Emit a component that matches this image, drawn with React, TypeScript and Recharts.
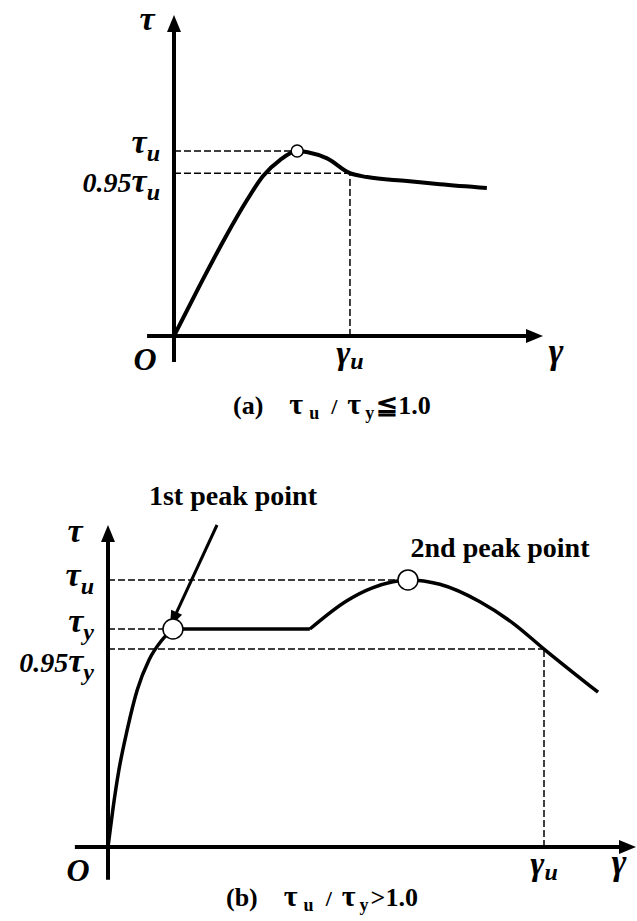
import { LineChart, Line, XAxis, YAxis, ReferenceLine, ReferenceDot } from 'recharts';

const SERIF = '"Liberation Serif", "Times New Roman", serif';

// (a) tau_u/tau_y <= 1.0   (gamma in gamma_u units, tau in tau_u units)
const aGamma = [0, 0.148, 0.29, 0.415, 0.506, 0.602, 0.7, 0.76, 0.87, 1.0, 1.097, 1.324, 1.511, 1.778];
const aTau = [0, 0.276, 0.53, 0.735, 0.865, 0.951, 1.0, 0.993, 0.96, 0.88, 0.859, 0.838, 0.82, 0.8];
const aTauU = 1.0;
const aTau95 = 0.88;
const aGammaU = 1.0;
const aPeakGamma = 0.7;

// (b) tau_u/tau_y > 1.0   (gamma in gamma_u units, tau in tau_y units)
const bRiseGamma = [0, 0.011, 0.025, 0.044, 0.067, 0.094, 0.122, 0.149];
const bRiseTau = [0, 0.17, 0.353, 0.537, 0.72, 0.858, 0.945, 1.0];
const bFlatGamma = [0.149, 0.463];
const bFlatTau = [1.0, 1.0];
const bHardGamma = [0.463, 0.548, 0.608, 0.688, 0.761, 0.853, 0.93, 1.0, 1.124];
const bHardTau = [1.0, 1.13, 1.19, 1.225, 1.205, 1.125, 1.025, 0.908, 0.71];
const bTauU = 1.225;
const bTauY = 1.0;
const bTau95 = 0.908;
const bGammaU = 1.0;
const b1stPeak = 0.149;
const b2ndPeak = 0.688;

// tick labels: [prefix, subscript]
const aTauTicks: Record<string, [string, string]> = {
  [String(aTau95)]: ['0.95', 'u'],
  [String(aTauU)]: ['', 'u'],
};
const bTauTicks: Record<string, [string, string]> = {
  [String(bTau95)]: ['0.95', 'y'],
  [String(bTauY)]: ['', 'y'],
  [String(bTauU)]: ['', 'u'],
};

const zip = (g: number[], t: number[]) => g.map((v, i) => ({ g: v, t: t[i] }));
const aData = zip(aGamma, aTau);
const bRise = zip(bRiseGamma, bRiseTau);
const bFlat = zip(bFlatGamma, bFlatTau);
const bHard = zip(bHardGamma, bHardTau);

const dash = { stroke: '#000', strokeWidth: 1.5, strokeDasharray: '7 3' };

function Arrow(p: any) {
  const { x1, y1, x2, y2, w = 4, head = 17, half = 7, label, lx = 0, ly = 0, size = 32, bold = true, italic = true } = p;
  const dx = x2 - x1;
  const dy = y2 - y1;
  const len = Math.hypot(dx, dy) || 1;
  const ux = dx / len;
  const uy = dy / len;
  const bx = x2 - ux * head;
  const by = y2 - uy * head;
  const pts = `${x2},${y2} ${bx - uy * half},${by + ux * half} ${bx + uy * half},${by - ux * half}`;
  return (
    <g>
      <line x1={x1} y1={y1} x2={bx + ux * 2} y2={by + uy * 2} stroke="#000" strokeWidth={w} />
      <polygon points={pts} fill="#000" />
      {label && (
        <text
          x={(lx as number) + (p.fromStart ? x1 : x2)}
          y={(ly as number) + (p.fromStart ? y1 : y2)}
          textAnchor="middle"
          fontFamily={SERIF}
          fontWeight={bold ? 'bold' : 'normal'}
          fontStyle={italic ? 'italic' : 'normal'}
          fontSize={size}
        >
          {label}
        </text>
      )}
    </g>
  );
}

function makeTauTick(labels: Record<string, [string, string]>, offsets: Record<string, number>) {
  return (p: any) => {
    const key = String(p.payload.value);
    const lab = labels[key];
    if (!lab) return <g />;
    return (
      <text x={p.x - 6} y={p.y + (offsets[key] || 0)} textAnchor="end" fontFamily={SERIF} fontWeight="bold" fontStyle="italic">
        {lab[0] && <tspan fontSize={28}>{lab[0]}</tspan>}
        <tspan fontSize={34}>τ</tspan>
        <tspan fontSize={24} dy={8}>{lab[1]}</tspan>
      </text>
    );
  };
}

function makeGammaTick(shiftO: number) {
  return (p: any) => {
    const v = p.payload.value;
    if (v === 0) {
      return (
        <text x={p.x + shiftO} y={p.y + 26} textAnchor="middle" fontFamily={SERIF} fontWeight="bold" fontStyle="italic" fontSize={32}>
          O
        </text>
      );
    }
    return (
      <text x={p.x} y={p.y + 20} textAnchor="middle" fontFamily={SERIF} fontWeight="bold" fontStyle="italic">
        <tspan fontSize={34}>γ</tspan>
        <tspan fontSize={24} dy={5}>u</tspan>
      </text>
    );
  };
}

function Caption({ tag, rel, top, left }: { tag: string; rel: string; top: number; left: number }) {
  const sub = { display: 'inline-block', fontSize: 18, position: 'relative' as const, top: 5 };
  return (
    <div
      style={{
        position: 'absolute',
        left,
        top,
        fontFamily: SERIF,
        fontWeight: 'bold',
        fontSize: 26,
        lineHeight: '30px',
        whiteSpace: 'pre',
      }}
    >
      <span>{tag}</span>
      <span style={{ display: 'inline-block', marginLeft: 26, fontSize: 30 }}>τ</span>
      <span style={{ ...sub, marginLeft: 6 }}>u</span>
      <span style={{ display: 'inline-block', marginLeft: 12, fontSize: 22 }}>/</span>
      <span style={{ display: 'inline-block', marginLeft: 10, fontSize: 30 }}>τ</span>
      <span style={{ ...sub, marginLeft: 4 }}>y</span>
      <span style={{ display: 'inline-block', marginLeft: 2 }}>{rel}</span>
    </div>
  );
}

export default function App() {
  const aXMax = 2.097;
  const aYMax = 1.735;
  const bXMax = 1.211;
  const bYMax = 1.477;

  return (
    <div style={{ position: 'absolute', left: 0, top: 0, width: 637, height: 921, background: '#fff' }}>
      <div style={{ position: 'absolute', left: 0, top: 0 }}>
        <LineChart width={637} height={430} data={aData} margin={{ top: 15, right: 94, bottom: 64, left: 114 }}>
          <XAxis
            type="number"
            dataKey="g"
            domain={[0, aXMax]}
            allowDataOverflow
            ticks={[0, aGammaU]}
            axisLine={false}
            tickLine={false}
            height={30}
            tick={makeGammaTick(-29)}
            interval={0}
          />
          <YAxis
            type="number"
            domain={[0, aYMax]}
            allowDataOverflow
            ticks={[aTau95, aTauU]}
            axisLine={false}
            tickLine={false}
            width={60}
            tick={makeTauTick(aTauTicks, { [String(aTauU)]: 2, [String(aTau95)]: 19 })}
            interval={0}
          />
          <ReferenceLine segment={[{ x: 0, y: aTauU }, { x: aPeakGamma, y: aTauU }]} ifOverflow="visible" {...dash} />
          <ReferenceLine segment={[{ x: 0, y: aTau95 }, { x: aGammaU, y: aTau95 }]} ifOverflow="visible" {...dash} />
          <ReferenceLine segment={[{ x: aGammaU, y: 0 }, { x: aGammaU, y: aTau95 }]} ifOverflow="visible" {...dash} />
          <ReferenceLine
            segment={[{ x: -0.153, y: 0 }, { x: aXMax, y: 0 }]}
            ifOverflow="visible"
            shape={(p: any) => <Arrow {...p} label="γ" lx={13} ly={27} size={36} />}
          />
          <ReferenceLine
            segment={[{ x: 0, y: -0.14 }, { x: 0, y: aYMax }]}
            ifOverflow="visible"
            shape={(p: any) => <Arrow {...p} label="τ" lx={-27} ly={15} size={34} />}
          />
          <Line type="monotone" dataKey="t" stroke="#000" strokeWidth={4} dot={false} isAnimationActive={false} />
          <ReferenceDot x={aPeakGamma} y={aTauU} r={6} fill="#fff" stroke="#000" strokeWidth={1.5} />
        </LineChart>
      </div>
      <Caption tag="(a)" rel="≦1.0" top={389} left={233} />

      <div style={{ position: 'absolute', left: 0, top: 430 }}>
        <LineChart width={637} height={491} margin={{ top: 95, right: 1, bottom: 44, left: 48 }}>
          <XAxis
            type="number"
            dataKey="g"
            domain={[0, bXMax]}
            allowDataOverflow
            ticks={[0, bGammaU]}
            axisLine={false}
            tickLine={false}
            height={30}
            tick={makeGammaTick(-30)}
            interval={0}
          />
          <YAxis
            type="number"
            domain={[0, bYMax]}
            allowDataOverflow
            ticks={[bTau95, bTauY, bTauU]}
            axisLine={false}
            tickLine={false}
            width={60}
            tick={makeTauTick(bTauTicks, { [String(bTauU)]: 6, [String(bTauY)]: 3, [String(bTau95)]: 23 })}
            interval={0}
          />
          <ReferenceLine segment={[{ x: 0, y: bTauU }, { x: b2ndPeak, y: bTauU }]} ifOverflow="visible" {...dash} />
          <ReferenceLine segment={[{ x: 0, y: bTauY }, { x: b1stPeak, y: bTauY }]} ifOverflow="visible" {...dash} />
          <ReferenceLine segment={[{ x: 0, y: bTau95 }, { x: bGammaU, y: bTau95 }]} ifOverflow="visible" {...dash} />
          <ReferenceLine segment={[{ x: bGammaU, y: 0 }, { x: bGammaU, y: bTau95 }]} ifOverflow="visible" {...dash} />
          <ReferenceLine
            segment={[{ x: -0.076, y: 0 }, { x: bXMax, y: 0 }]}
            ifOverflow="visible"
            shape={(p: any) => <Arrow {...p} label="γ" lx={-17} ly={27} size={36} />}
          />
          <ReferenceLine
            segment={[{ x: 0, y: -0.15 }, { x: 0, y: bYMax }]}
            ifOverflow="visible"
            shape={(p: any) => <Arrow {...p} label="τ" lx={-33} ly={17} size={34} />}
          />
          <Line data={bRise} type="monotone" dataKey="t" stroke="#000" strokeWidth={3.5} dot={false} isAnimationActive={false} />
          <Line data={bFlat} type="linear" dataKey="t" stroke="#000" strokeWidth={3.5} dot={false} isAnimationActive={false} />
          <Line data={bHard} type="monotone" dataKey="t" stroke="#000" strokeWidth={3.5} dot={false} isAnimationActive={false} />
          <ReferenceDot x={b1stPeak} y={bTauY} r={10} fill="#fff" stroke="#000" strokeWidth={1.5} />
          <ReferenceDot x={b2ndPeak} y={bTauU} r={10} fill="#fff" stroke="#000" strokeWidth={1.5} />
          <ReferenceLine
            segment={[{ x: 0.25, y: 1.477 }, { x: 0.142, y: 1.01 }]}
            ifOverflow="visible"
            shape={(p: any) => (
              <Arrow {...p} w={3} head={16} half={6} label="1st peak point" fromStart lx={16} ly={-20} size={28} italic={false} />
            )}
          />
          <ReferenceDot
            x={b2ndPeak}
            y={bTauU}
            r={0}
            ifOverflow="visible"
            shape={(p: any) => (
              <text x={p.cx + 92} y={p.cy - 23} textAnchor="middle" fontFamily={SERIF} fontWeight="bold" fontSize={28}>
                2nd peak point
              </text>
            )}
          />
        </LineChart>
      </div>
      <Caption tag="(b)" rel=">1.0" top={881} left={226} />
    </div>
  );
}
